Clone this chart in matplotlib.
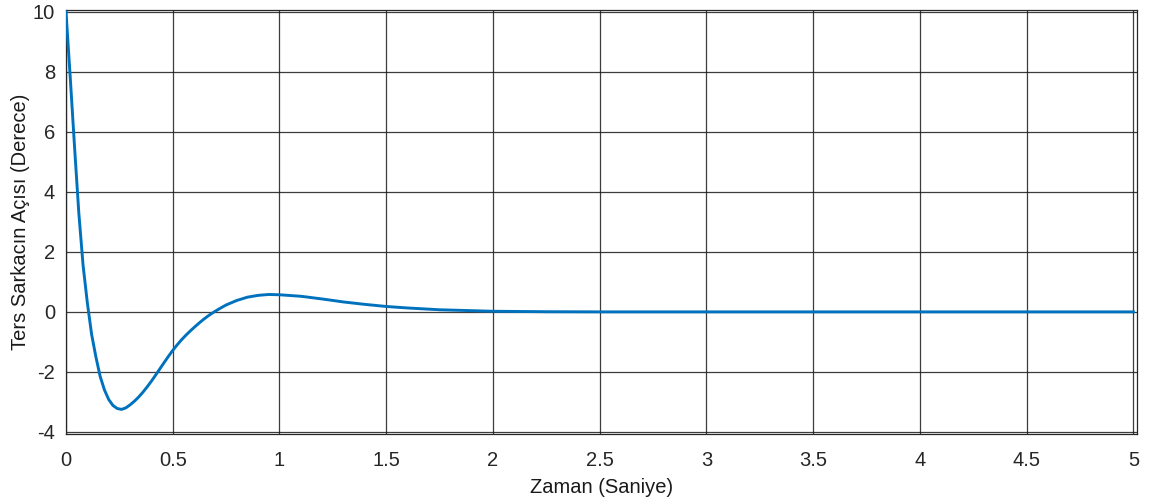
import matplotlib
matplotlib.use('Agg')
import matplotlib.pyplot as plt

# ── Pendulum angle response ───────────────────────────────────────────────────
time_s = [0.0, 0.02, 0.04, 0.06, 0.08, 0.10, 0.12, 0.14, 0.16, 0.18,
          0.20, 0.22, 0.24, 0.26, 0.28, 0.30, 0.32, 0.34, 0.36, 0.38,
          0.40, 0.42, 0.44, 0.46, 0.48, 0.50, 0.52, 0.54, 0.56, 0.58,
          0.60, 0.62, 0.64, 0.66, 0.68, 0.70, 0.72, 0.75, 0.80, 0.85,
          0.90, 0.95, 1.00, 1.10, 1.20, 1.30, 1.40, 1.50, 1.60, 1.75,
          2.00, 2.25, 2.50, 3.00, 3.50, 4.00, 4.50, 5.00]
angle_deg = [10.0, 7.8, 5.5, 3.3, 1.55, 0.3, -0.75, -1.5, -2.15, -2.6,
             -2.92, -3.12, -3.22, -3.25, -3.2, -3.1, -2.98, -2.84, -2.68, -2.5,
             -2.31, -2.105, -1.895, -1.685, -1.48, -1.285, -1.105, -0.94, -0.79, -0.65,
             -0.52, -0.395, -0.275, -0.165, -0.065, 0.025, 0.11, 0.23, 0.38, 0.49,
             0.55, 0.58, 0.57, 0.52, 0.43, 0.33, 0.25, 0.18, 0.13, 0.07,
             0.02, 0.005, 0.0, 0.0, 0.0, 0.0, 0.0, 0.0]

x_ticks = [0, 0.5, 1, 1.5, 2, 2.5, 3, 3.5, 4, 4.5, 5]
x_labels = ['0', '0.5', '1', '1.5', '2', '2.5', '3', '3.5', '4', '4.5', '5']
y_ticks = [-4, -2, 0, 2, 4, 6, 8, 10]

plt.rcParams['font.family'] = ['Liberation Sans', 'DejaVu Sans']
plt.rcParams['axes.unicode_minus'] = False

fig = plt.figure(figsize=(11.57, 5.04), dpi=100)
ax = fig.add_axes([66 / 1157, 70 / 504, 1071 / 1157, 424 / 504])

ax.plot(time_s, angle_deg, color='#0072BD', linewidth=2.1, zorder=3)

ax.set_xlim(0, 5.017)
ax.set_ylim(-4.07, 10.06)
ax.set_xticks(x_ticks)
ax.set_xticklabels(x_labels)
ax.set_yticks(y_ticks)
ax.grid(True, color='#1a1a1a', linewidth=0.9, alpha=0.85)
ax.tick_params(direction='in', length=0, labelsize=14.5, colors='#262626')
ax.tick_params(axis='x', pad=12)
ax.tick_params(axis='y', pad=8)

for sp in ax.spines.values():
    sp.set_color('#262626')
    sp.set_linewidth(0.9)

ax.set_xlabel('Zaman (Saniye)', fontsize=14.5, color='#1a1a1a', labelpad=6)
ax.set_ylabel('Ters Sarkacın Açısı (Derece)', fontsize=14.5, color='#1a1a1a', labelpad=2)

fig.savefig('out.png', dpi=100)
